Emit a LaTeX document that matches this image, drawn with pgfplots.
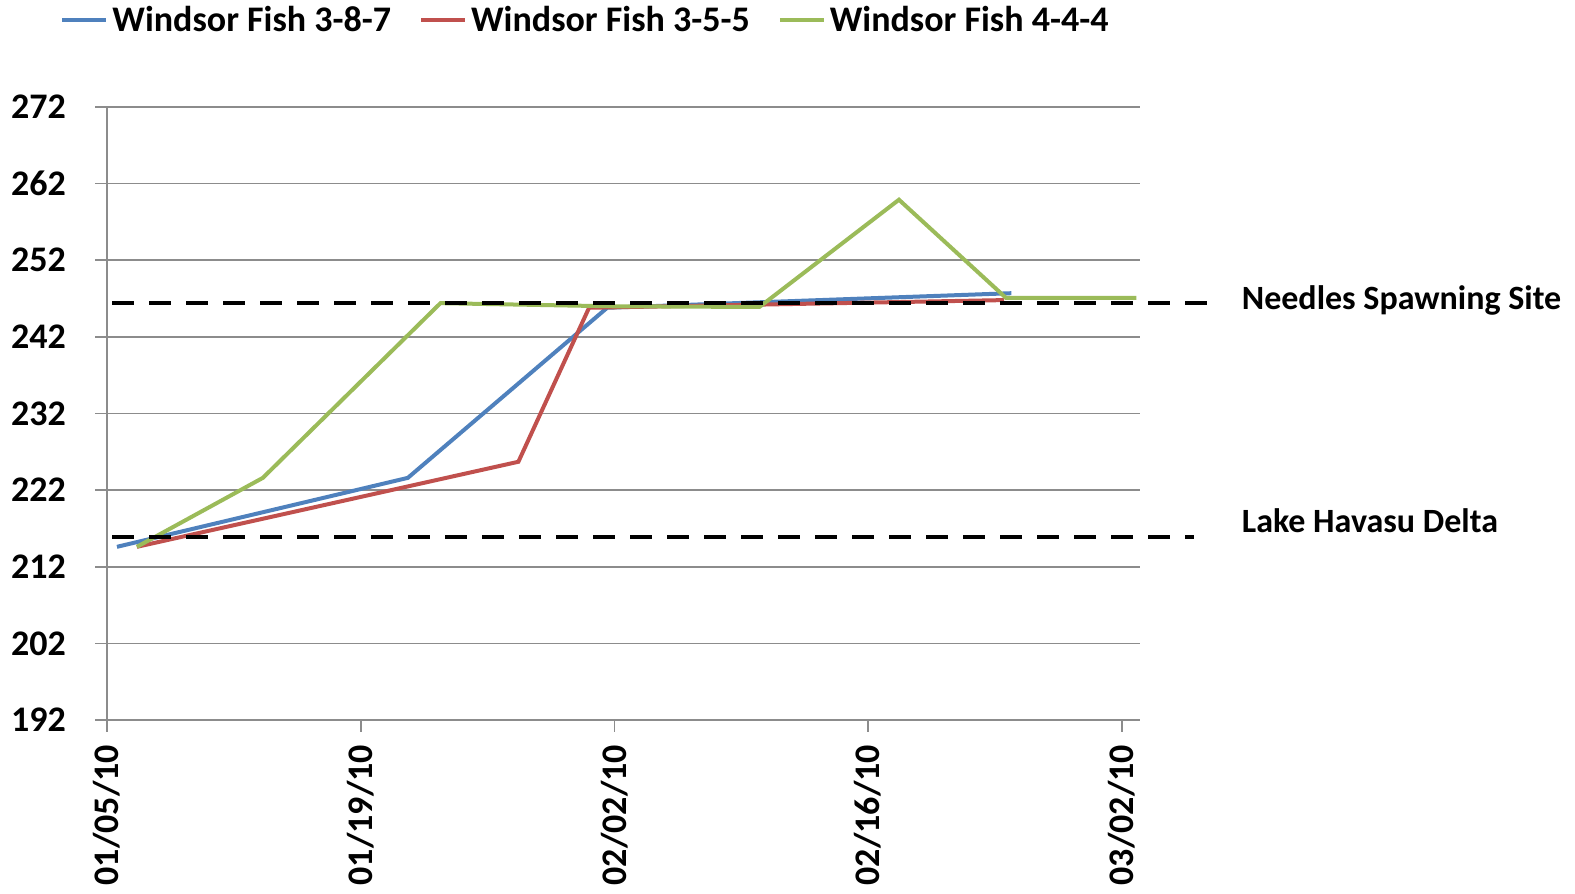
\documentclass[border=0pt]{standalone}
\usepackage{pgfplots}
\pgfplotsset{compat=1.18}
\usepackage{fontspec}
\setmainfont{Carlito}
\definecolor{fishblue}{HTML}{4F81BD}
\definecolor{fishred}{HTML}{C0504D}
\definecolor{fishgreen}{HTML}{9BBB59}
\definecolor{gridgray}{HTML}{8C8C8C}

\begin{document}
\begin{tikzpicture}
\path[use as bounding box] (0,0) rectangle (787.5pt,447pt);
\begin{axis}[
  at={(53.5pt,87pt)}, anchor=south west,
  width=516.5pt, height=306.5pt, scale only axis,
  xmin=0, xmax=57, ymin=192, ymax=272,
  ytick={192,202,...,272},
  xtick={0,14,28,42,56},
  xticklabels={01/05/10,01/19/10,02/02/10,02/16/10,03/02/10},
  axis lines=left,
  axis line style={gridgray, line width=0.8pt, -},
  ymajorgrids,
  grid style={gridgray, line width=0.8pt},
  tick style={gridgray, line width=0.8pt},
  tick align=outside, major tick length=6pt,
  ticklabel style={font=\fontsize{18}{20}\selectfont\bfseries},
  xticklabel style={rotate=90, anchor=east},
  xticklabel shift=3pt,
  yticklabel style={anchor=east},
  yticklabel shift=11pt,
  /pgf/number format/assume math mode=true,
  clip=false,
  legend columns=3,
  legend style={at={(axis description cs:-0.0455,1.142)}, anchor=west,
    draw=none, fill=none, font=\fontsize{18}{20}\selectfont\bfseries,
    /tikz/every even column/.append style={column sep=12pt},
    inner sep=0pt, cells={anchor=west}},
  legend image code/.code={\draw[#1] (0pt,0pt) -- (22pt,0pt);},
]
% Windsor Fish 3-8-7
\addplot[fishblue, line width=2pt] coordinates {
  (0.55,214.6) (16.6,223.6) (27.6,245.8) (49.9,247.7)
};
\addlegendentry{Windsor Fish 3-8-7}
% Windsor Fish 3-5-5
\addplot[fishred, line width=2pt] coordinates {
  (1.65,214.6) (22.7,225.7) (26.6,245.8) (49.5,246.8)
};
\addlegendentry{Windsor Fish 3-5-5}
% Windsor Fish 4-4-4
\addplot[fishgreen, line width=2pt] coordinates {
  (1.65,214.6) (8.6,223.6) (18.4,246.4) (27.6,246.0) (36.0,245.9)
  (43.7,259.9) (49.6,247.1) (56.8,247.1)
};
\addlegendentry{Windsor Fish 4-4-4}
% reference levels
\addplot[black, line width=2.2pt, dash pattern=on 11pt off 7.5pt, forget plot]
  coordinates {(0.3,246.4) (61.5,246.4)};
\addplot[black, line width=2.2pt, dash pattern=on 11pt off 7.5pt, forget plot]
  coordinates {(0.3,215.9) (60.0,215.9)};
\node[anchor=west, inner sep=0pt, font=\fontsize{17}{19}\selectfont\bfseries]
  at (axis cs:62.6,246.7) {Needles Spawning Site};
\node[anchor=west, inner sep=0pt, font=\fontsize{17}{19}\selectfont\bfseries]
  at (axis cs:62.6,218.0) {Lake Havasu Delta};
\end{axis}
\end{tikzpicture}
\end{document}
